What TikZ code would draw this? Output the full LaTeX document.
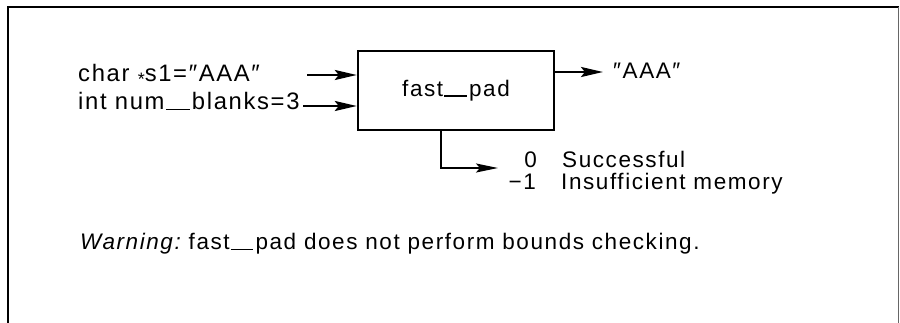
\documentclass[tikz,border=0pt]{standalone}
\usepackage{fontspec}
\setmainfont[LetterSpace=7]{Liberation Sans}
\usetikzlibrary{arrows.meta}
% long typeset underscore between word parts
\newcommand\usc{\kern0.05em\rule[-0.02em]{1em}{0.07em}\kern0.1em}
\begin{document}
\begin{tikzpicture}[x=1pt,y=-1pt,
  every node/.style={font=\fontsize{22.5}{26}\selectfont, inner sep=0pt},
  txt/.style={anchor=base west},
  arg/.style={anchor=base west, font=\fontsize{23.8}{28}\selectfont},
  num/.style={anchor=base east},
  fn/.style={draw, line width=2.4pt, minimum width=196pt, minimum height=79pt},
  arr/.style={line width=2.5pt, -{Stealth[length=22pt,width=10pt,inset=4pt]}},
  arrthin/.style={line width=1.8pt, -{Stealth[length=22pt,width=9pt,inset=4pt]}},
  frame/.style={line width=2.2pt}]
\useasboundingbox (0,0) rectangle (900,323);

% open frame
\draw[frame] (8,323) -- (8,7) -- (898.5,7);
\draw[line width=1.2pt, black!60] (898.5,7) -- (898.5,323);

% function box
\node[fn] (fp) at (456,90.5) {fast\usc pad};

% arguments
\node[arg] (in1) at (78,82) {char \raisebox{-0.14em}{\fontsize{18}{20}\selectfont*}s1=″AAA″};
\node[arg] (in2) at (78,110) {int\ num\usc blanks=3};
\coordinate (s1) at (307,75);
\coordinate (s2) at (303,106);
\draw[arr] (s1) -- (s1 -| fp.west);
\draw[arr] (s2) -- (s2 -| fp.west);

% result string
\coordinate (o1) at (603,72);
\draw[arr] (o1 -| fp.east) -- (o1);
\node[txt] (out) at (613,79) {″AAA″};

% return codes
\coordinate (k1) at (441,168);
\coordinate (k2) at (498,168);
\draw[arrthin] (k1 |- fp.south) -- (k1) -- (k2);
\node[num] (c0) at (537,168) {0};
\node[txt] (m0) at (562,168) {Successful};
\node[num] (c1) at (536,190) {−1};
\node[txt] (m1) at (561,190) {Insufficient memory};

% note
\node[txt] (warn) at (80,250) {\textit{Warning:}\kern-0.07em\ fast\usc pad does not perform bounds checking.};
\end{tikzpicture}
\end{document}
